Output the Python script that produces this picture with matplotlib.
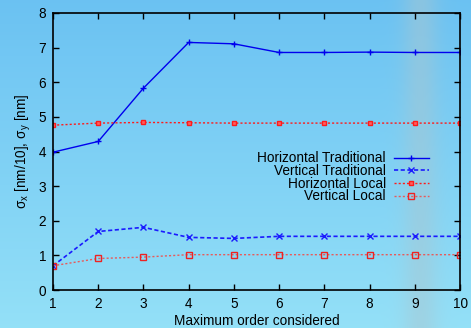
import numpy as np
from matplotlib import pyplot as plt

plt.rcParams['font.family'] = ['Liberation Sans', 'DejaVu Sans']
plt.rcParams['mathtext.fontset'] = 'custom'
plt.rcParams['mathtext.rm'] = 'Liberation Sans'

# ---- data ----
order = [1, 2, 3, 4, 5, 6, 7, 8, 9, 10]
horiz_trad = [3.98, 4.29, 5.83, 7.15, 7.11, 6.86, 6.86, 6.87, 6.86, 6.86]
vert_trad = [0.70, 1.69, 1.81, 1.52, 1.49, 1.55, 1.55, 1.55, 1.55, 1.55]
horiz_local = [4.76, 4.82, 4.84, 4.83, 4.82, 4.82, 4.82, 4.82, 4.82, 4.82]
vert_local = [0.70, 0.91, 0.95, 1.02, 1.02, 1.02, 1.02, 1.02, 1.02, 1.02]
labels = ['Horizontal Traditional', 'Vertical Traditional', 'Horizontal Local', 'Vertical Local']

W, H = 471, 328
fs = 9.8
fig = plt.figure(figsize=(W / 100, H / 100), dpi=100)

# sky-like backdrop
bg = fig.add_axes([0, 0, 1, 1])
yy, xx = np.mgrid[0:H, 0:W]
top = np.array([0.42, 0.76, 0.95])
bot = np.array([0.58, 0.88, 0.97])
t = (yy / H)[..., None]
img = top * (1 - t) + bot * t
band = np.exp(-((xx - 420) / 18.0) ** 2)[..., None]
grey = np.array([0.66, 0.78, 0.82])
img = img * (1 - 0.5 * band) + grey * 0.5 * band
bg.imshow(img, aspect='auto', extent=[0, W, H, 0])
bg.axis('off')

ax = fig.add_axes([53 / W, 38 / H, 407 / W, 277 / H])
ax.patch.set_alpha(0)

ax.plot(order, horiz_trad, color='#0000ee', lw=1.0, marker='+', ms=4, mew=1.0, label=labels[0])
ax.plot(order, vert_trad, color='#1a1aff', lw=1.2, ls=(0, (2.5, 1.5)), marker='x', ms=4, mew=1.0, label=labels[1])
ax.plot(order, horiz_local, color='#ff1a1a', lw=1.0, ls=(0, (1.5, 1.5)), marker='s', ms=3.5, mec='#ff1a1a',
        mfc='#ff6060', mew=1.0, label=labels[2])
ax.plot(order, vert_local, color='#e85a5a', lw=1.0, ls=(0, (1.5, 1.5)), marker='s', ms=4.5, mfc='none',
        mec='#ee2222', mew=1.0, label=labels[3])

ax.set_xlim(1, 10)
ax.set_ylim(0, 8)
ax.set_xticks(order)
ax.set_yticks(range(0, 9))
ax.tick_params(direction='in', top=True, right=True, length=4, width=1, labelsize=fs, pad=5)
for s in ax.spines.values():
    s.set_linewidth(1.2)

ax.set_xlabel('Maximum order considered', fontsize=fs, labelpad=2)
ax.set_ylabel(r'σ$_\mathregular{x}$ [nm/10], σ$_\mathregular{y}$ [nm]', fontsize=fs, labelpad=4)

ax.legend(loc='upper right', bbox_to_anchor=(0.941, 0.525), frameon=False, markerfirst=False,
          fontsize=fs, handlelength=2.6, labelspacing=-0.1, handletextpad=0.6, borderpad=0)

fig.savefig('out.png', dpi=100)
